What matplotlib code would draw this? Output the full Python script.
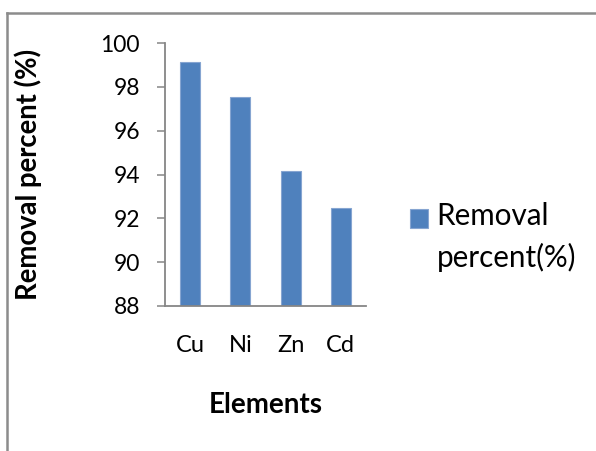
import matplotlib
matplotlib.use("Agg")
import matplotlib.pyplot as plt
from matplotlib.lines import Line2D
from matplotlib.patches import Rectangle
from matplotlib.container import BarContainer
from matplotlib.legend_handler import HandlerPatch, update_from_first_child

categories = ["Cu", "Ni", "Zn", "Cd"]
removal = [99.15, 97.55, 94.15, 92.47]
series_name = "Removal\npercent(%)"
yticks = [88, 90, 92, 94, 96, 98, 100]

plt.rcParams['font.family'] = ['Lato', 'DejaVu Sans']

W, H = 596, 451
fig = plt.figure(figsize=(W / 100, H / 100), dpi=100)
fig.patch.set_facecolor('white')

ax = fig.add_axes([165 / W, 1 - 306 / H, (366 - 165) / W, (306 - 43) / H])
x = list(range(len(categories)))
ax.bar(x, [v - 88 for v in removal], bottom=88, width=0.4, color='#4F81BD',
       edgecolor='#86A5D1', linewidth=0.8, label=series_name)
ax.set_xlim(-0.5, len(categories) - 0.5)
ax.set_ylim(88, 100)
ax.set_yticks(yticks)
ax.set_yticklabels([str(t) for t in yticks])
ax.set_xticks(x)
ax.set_xticklabels(categories)

for s in ['top', 'right']:
    ax.spines[s].set_visible(False)
for s in ['left', 'bottom']:
    ax.spines[s].set_color('#868686')
    ax.spines[s].set_linewidth(1.3)

ax.tick_params(axis='y', direction='out', length=6, width=1.1, color='#868686',
               labelsize=16.5, pad=12, labelcolor='black')
ax.tick_params(axis='x', length=0, labelsize=17, pad=21, labelcolor='black')

ax.set_xlabel("Elements", fontsize=20, fontweight='bold', va='center')
ax.xaxis.set_label_coords(0.5, -0.376)
ax.set_ylabel("Removal percent (%)", fontsize=19.8, fontweight='bold', va='center')
ax.yaxis.set_label_coords(-0.682, 0.5)


def shifted_patch(legend, orig_handle, xdescent, ydescent, width, height, fontsize):
    return Rectangle((-xdescent, -ydescent + 14.0), width, height)


leg = fig.legend(handler_map={BarContainer: HandlerPatch(patch_func=shifted_patch,
                                                         update_func=update_from_first_child)},
                 loc='upper left', bbox_to_anchor=(410 / W, 1 - 202 / H),
                 frameon=False, fontsize=21.3, borderpad=0, borderaxespad=0,
                 handlelength=0.6, handleheight=0.6, handletextpad=0.3)
for t in leg.get_texts():
    t.set_linespacing(1.52)

# chart frame (top and left edges visible)
fig.add_artist(Line2D([7.5 / W, 1.0], [1 - 13 / H, 1 - 13 / H], transform=fig.transFigure,
                      color='#8C8C8C', linewidth=1.8))
fig.add_artist(Line2D([7.5 / W, 7.5 / W], [1 - 13 / H, 0.0], transform=fig.transFigure,
                      color='#8C8C8C', linewidth=1.8))

fig.savefig("out.png", dpi=100, facecolor='white')
